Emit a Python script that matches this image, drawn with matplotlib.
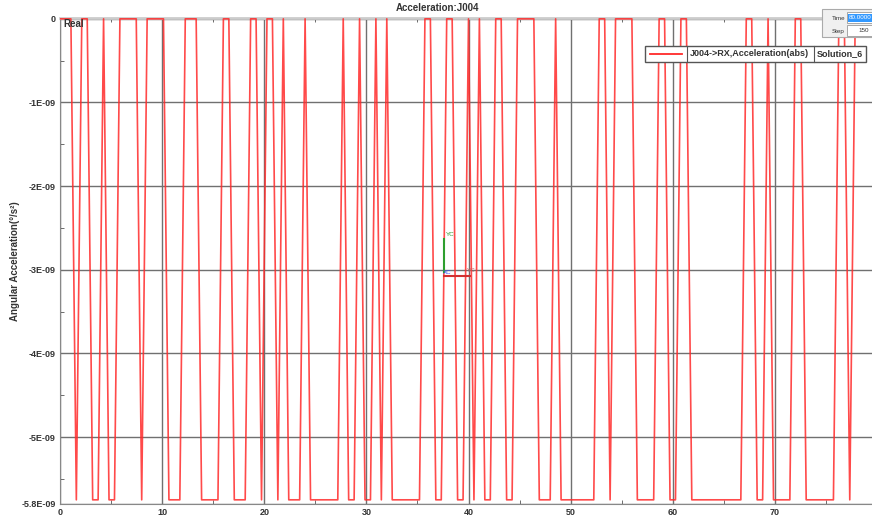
import numpy as np
import matplotlib
matplotlib.use("Agg")
import matplotlib.pyplot as plt
from matplotlib.patches import Rectangle

plt.rcParams['font.family'] = ['Liberation Sans', 'DejaVu Sans']
plt.rcParams['font.weight'] = 'bold'

# solver output: Time 80, Step 150
end_time = 80.0
n_steps = 150
low_value = -5.75e-9
# (first, last) step where the curve sits on the low level
low_runs = [(3, 3), (6, 7), (9, 10), (15, 15), (20, 22), (26, 29), (32, 34),
            (37, 37), (40, 40), (42, 44), (46, 51), (53, 54), (56, 57), (59, 59),
            (61, 66), (69, 70), (73, 74), (76, 76), (78, 79), (82, 83), (88, 90),
            (92, 98), (101, 101), (106, 109), (112, 113), (116, 125), (128, 129),
            (131, 134), (137, 142), (145, 145)]

y_ticks = [0, -1e-9, -2e-9, -3e-9, -4e-9, -5e-9, -5.8e-9]
y_labels = ['0', '-1E-09', '-2E-09', '-3E-09', '-4E-09', '-5E-09', '-5.8E-09']
x_ticks = [0, 10, 20, 30, 40, 50, 60, 70, 80]
x_minor = [5, 15, 25, 35, 45, 55, 65, 75]
y_minor = [-0.5e-9, -1.5e-9, -2.5e-9, -3.5e-9, -4.5e-9, -5.5e-9]

t = np.linspace(0, end_time, n_steps + 1)
acc = np.zeros(n_steps + 1)
for a, b in low_runs:
    acc[a:b + 1] = low_value

W, H = 872, 519
fig = plt.figure(figsize=(W / 100, H / 100), dpi=100)

# main plot area (right edge runs past the image, as in the screenshot)
left, right, top, bottom = 60, 877, 18, 504
ax = fig.add_axes([left / W, (H - bottom) / H, (right - left) / W, (bottom - top) / H])
ax.plot(t, acc, color='#ff2a2a', lw=1.2, alpha=0.85, zorder=3)
ax.set_xlim(0, 80)
ax.set_ylim(-5.8e-9, 0.01e-9)

ax.set_xticks(x_ticks)
ax.set_xticks(x_minor, minor=True)
ax.set_yticks(y_ticks)
ax.set_yticklabels(y_labels)
ax.set_yticks(y_minor, minor=True)
ax.tick_params(axis='both', which='major', length=0, labelsize=6.5,
               labelcolor='#333333', pad=3)
ax.tick_params(axis='both', which='minor', direction='in', length=3,
               color='#555555', top=True)
ax.grid(True, which='major', color='#707070', lw=1)

for s in ['left', 'bottom']:
    ax.spines[s].set_color('#888888')
ax.spines['top'].set_color('#cccccc')
ax.spines['top'].set_linewidth(2)
ax.spines['right'].set_visible(False)

# overlay in pixel coordinates for the screen decorations
ov = fig.add_axes([0, 0, 1, 1], zorder=10)
ov.set_xlim(0, W)
ov.set_ylim(H, 0)
ov.axis('off')
ov.patch.set_alpha(0)

ov.text(437, 8, 'Acceleration:J004', ha='center', va='center', fontsize=7, color='#333333')
ov.text(15, 261, 'Angular Acceleration(°/s²)', rotation=90, ha='center', va='center',
        fontsize=7, color='#333333')
ov.text(63, 24, 'Real', ha='left', va='center', fontsize=7, color='#333333')

# legend box
ov.add_patch(Rectangle((645, 46), 221, 16, facecolor='white', edgecolor='#555555', lw=1))
ov.plot([650, 682], [54, 54], color='#ff2a2a', lw=1.3)
ov.plot([687, 687], [46, 62], color='#555555', lw=0.8)
ov.plot([814, 814], [46, 62], color='#555555', lw=0.8)
ov.text(690, 54, 'J004->RX,Acceleration(abs)', ha='left', va='center', fontsize=6.5, color='#333333')
ov.text(817, 54, 'Solution_6', ha='left', va='center', fontsize=6.5, color='#333333')

# time / step widget
ov.add_patch(Rectangle((822, 9), 52, 28, facecolor='#f0f0f0', edgecolor='#aaaaaa', lw=0.8))
ov.text(832, 18, 'Time', ha='left', va='center', fontsize=4.5, color='#333333', weight='normal')
ov.text(832, 31, 'Step', ha='left', va='center', fontsize=4.5, color='#333333', weight='normal')
ov.add_patch(Rectangle((847, 12), 27, 11, facecolor='white', edgecolor='#999999', lw=0.6))
ov.add_patch(Rectangle((848, 13.5), 24, 8, facecolor='#3399ff', edgecolor='none'))
ov.text(849, 17.5, '80.0000', ha='left', va='center', fontsize=4.5, color='white', weight='normal')
ov.add_patch(Rectangle((847, 25), 27, 11, facecolor='white', edgecolor='#999999', lw=0.6))
ov.text(869, 30.5, '150', ha='right', va='center', fontsize=4.5, color='#333333', weight='normal')

# coordinate triad
ov.plot([443.5, 443.5], [272, 239], color='#2e9e2e', lw=1.5)
ov.text(446, 235, 'YC', fontsize=4.5, color='#2e9e2e', va='center', weight='normal')
ov.plot([443.5, 470], [276, 276], color='#d03030', lw=1.5)
ov.text(443, 273, 'XC', fontsize=4.5, color='#3050ff', va='center', weight='normal')
ov.text(467, 270, 'YC', fontsize=4.5, color='#d06060', va='center', weight='normal')

fig.savefig('out.png', dpi=100)
